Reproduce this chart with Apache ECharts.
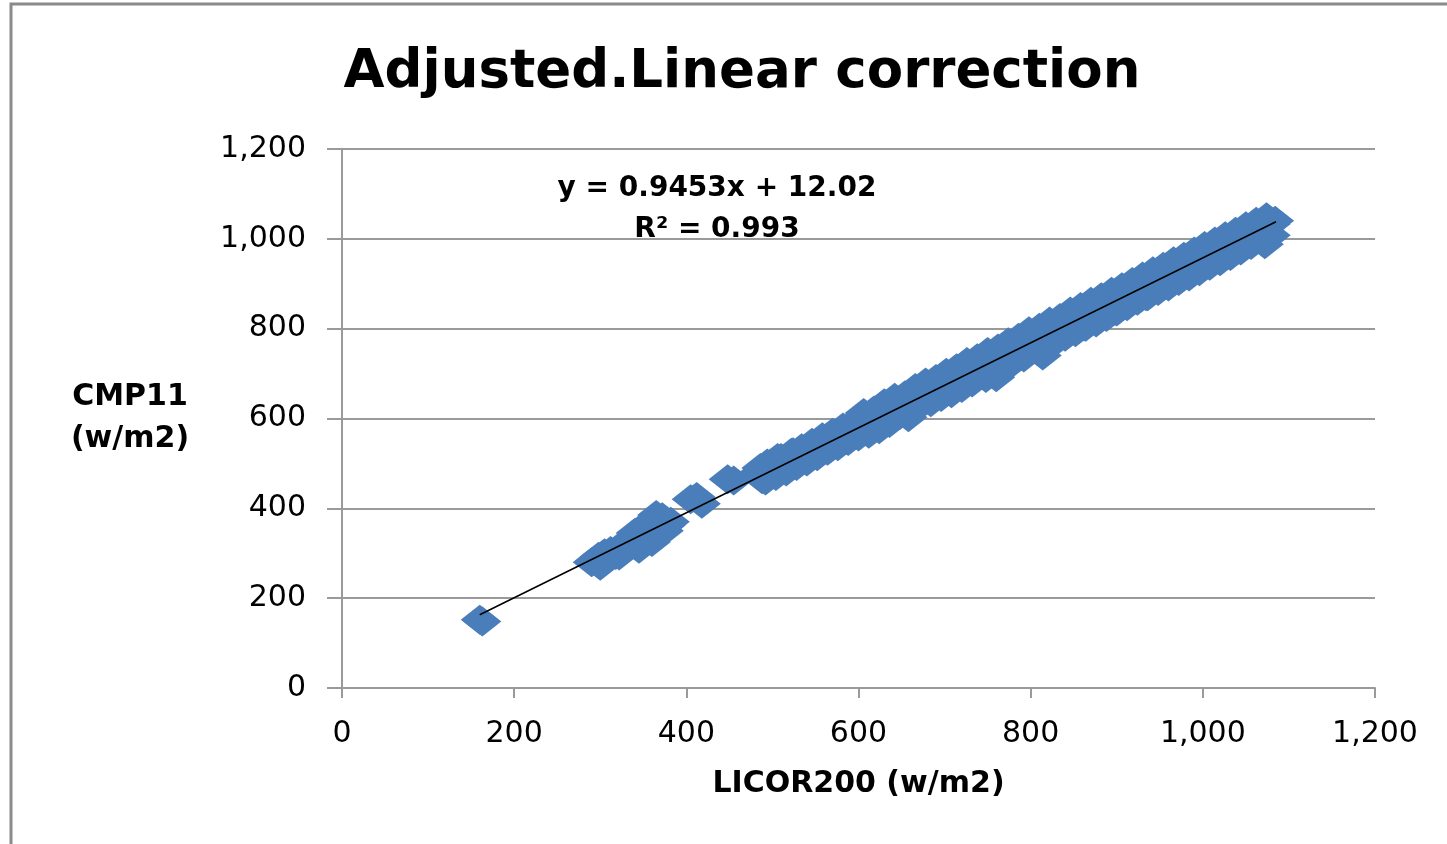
<!DOCTYPE html>
<html>
<head>
<meta charset="utf-8">
<script src="https://cdn.jsdelivr.net/npm/echarts@6/dist/echarts.min.js"></script>
<style>
  html, body { margin: 0; padding: 0; background: #fff; }
  #chart { width: 1447px; height: 844px; }
</style>
</head>
<body>
<div id="chart"></div>
<script>
// LICOR200 readings (x) and CMP11 readings (y)
const licor = [
  160, 163,
  290, 298, 305, 312, 318, 325, 330, 336, 342, 348, 352, 358, 363, 368, 372, 377, 382,
  300, 322, 345, 360, 375, 340, 356, 365,
  405, 412, 418,
  448, 455,
  482, 488, 494, 500, 506, 512, 518, 524, 530, 536, 542, 548, 552, 558, 564, 568, 574, 580,
  586, 592, 598, 604, 610, 616, 622, 628, 634, 640, 646, 652, 658, 664, 670, 676, 682, 688,
  694, 700, 706, 712, 718, 724, 730, 736, 742, 748, 754, 760, 766, 772, 778, 784, 790, 796,
  802, 808, 814, 820, 826, 832, 838, 844, 850, 856, 862, 868, 874, 880, 886, 892, 898, 904,
  910, 916, 922, 928, 934, 940, 946, 952, 958, 964, 970, 976, 982, 988, 994, 1000, 1006,
  1012, 1018, 1024, 1030, 1036, 1042, 1048, 1054, 1060, 1066, 1072, 1078, 1084, 1080
];
const cmp11 = [
  152, 148,
  280, 292, 300, 305, 296, 318, 312, 325, 330, 318, 342, 350, 340, 372, 380, 362, 370,
  272, 295, 310, 325, 350, 345, 368, 385,
  420, 425, 410,
  465, 462,
  478, 465, 500, 490, 512, 498, 505, 525, 518, 530, 512, 540, 525, 548, 558, 535, 560, 570,
  552, 578, 590, 575, 585, 600, 592, 612, 605, 620, 628, 640, 603, 648, 660, 655, 668, 650,
  662, 680, 672, 690, 700, 688, 712, 720, 705, 690, 725, 692, 738, 732, 745, 752, 760, 750,
  770, 762, 740, 780, 785, 795, 800, 790, 812, 818, 805, 830, 838, 825, 848, 855, 840, 862,
  870, 858, 878, 885, 872, 895, 900, 910, 912, 920, 928, 940, 945, 935, 955, 962, 958,
  970, 978, 985, 975, 995, 1000, 1008, 1015, 1022, 1030, 988, 1032, 1040, 1033
];

// readings along the upper edge of the cloud
const upperLicor = [
  486, 498, 510, 522, 534, 546, 558, 570, 582, 594, 606, 618, 630, 642, 654, 666, 678, 690,
  702, 714, 726, 738, 750, 762, 774, 786, 798, 810, 822, 834, 846, 858, 870, 882, 894, 906,
  918, 930, 942, 954, 966, 978, 990, 1002, 1014, 1026, 1038, 1050, 1062, 1074
];
const upperCmp11 = [
  490, 500, 512, 524, 534, 546, 558, 568, 580, 590, 612, 618, 634, 646, 652, 668, 680, 688,
  702, 712, 726, 734, 748, 756, 770, 780, 794, 802, 816, 824, 838, 848, 860, 870, 882, 892,
  904, 916, 928, 938, 950, 960, 972, 984, 994, 1006, 1016, 1028, 1038, 1048
];

// readings along the lower edge of the cloud
const lowerLicor = [
  492, 504, 516, 528, 540, 552, 564, 576, 588, 600, 612, 624, 636, 648, 660, 672, 684, 696,
  708, 720, 732, 744, 756, 768, 780, 792, 804, 816, 828, 840, 852, 864, 876, 888, 900, 912,
  924, 936, 948, 960, 972, 984, 996, 1008, 1020, 1032, 1044, 1056, 1068, 1080
];
const lowerCmp11 = [
  462, 472, 482, 494, 504, 516, 528, 538, 550, 560, 566, 576, 590, 608, 618, 630, 636, 648,
  656, 668, 680, 698, 704, 716, 726, 736, 754, 752, 772, 782, 792, 804, 814, 826, 838, 850,
  862, 872, 884, 894, 906, 916, 928, 940, 950, 962, 974, 986, 998, 1008
];

// linear trendline end points (y = 0.9453x + 12.02)
const trendX = [160, 1085];
const trendY = [163, 1038];

const xTicks = { min: 0, max: 1200, interval: 200 };
const yTicks = { min: 0, max: 1200, interval: 200 };

const toPairs = (xs, ys) => xs.map((x, i) => [x, ys[i]]);

const chart = echarts.init(document.getElementById('chart'));

const fmt = v => v.toLocaleString('en-US');

chart.setOption({
  animation: false,
  title: {
    text: 'Adjusted.Linear correction',
    left: 737,
    top: 42,
    textAlign: 'center',
    textStyle: {
      fontFamily: 'DejaVu Sans',
      fontWeight: 'bold',
      fontSize: 53,
      color: '#000'
    }
  },
  grid: { left: 342, right: 72, top: 149, bottom: 156 },
  xAxis: {
    type: 'value',
    min: xTicks.min,
    max: xTicks.max,
    interval: xTicks.interval,
    name: 'LICOR200 (w/m2)',
    nameLocation: 'middle',
    nameGap: 81,
    nameTextStyle: {
      fontFamily: 'DejaVu Sans',
      fontWeight: 'bold',
      fontSize: 30,
      color: '#000'
    },
    axisLine: { onZero: false, lineStyle: { color: '#9a9a9a', width: 2 } },
    axisTick: { show: true, length: 10, lineStyle: { color: '#9a9a9a', width: 2 } },
    axisLabel: {
      margin: 31,
      formatter: fmt,
      fontFamily: 'DejaVu Sans',
      fontSize: 30,
      color: '#000'
    },
    splitLine: { show: false }
  },
  yAxis: {
    type: 'value',
    min: yTicks.min,
    max: yTicks.max,
    interval: yTicks.interval,
    name: 'CMP11\n(w/m2)',
    nameLocation: 'middle',
    nameRotate: 0,
    nameGap: 212,
    nameTextStyle: {
      fontFamily: 'DejaVu Sans',
      fontWeight: 'bold',
      fontSize: 30,
      lineHeight: 42,
      align: 'center',
      color: '#000'
    },
    axisLine: { show: true, lineStyle: { color: '#9a9a9a', width: 2 } },
    axisTick: { show: true, length: 15, lineStyle: { color: '#9a9a9a', width: 2 } },
    axisLabel: {
      margin: 36,
      formatter: fmt,
      fontFamily: 'DejaVu Sans',
      fontSize: 30,
      color: '#000'
    },
    splitLine: { show: true, lineStyle: { color: '#9a9a9a', width: 2 } }
  },
  graphic: [
    {
      type: 'rect',
      silent: true,
      shape: { x: 11, y: 4, width: 2000, height: 2000 },
      style: { fill: 'none', stroke: '#8a8a8a', lineWidth: 3 }
    },
    {
      type: 'text',
      x: 717,
      y: 189,
      style: {
        text: 'y = 0.9453x + 12.02',
        fontFamily: 'DejaVu Sans',
        fontWeight: 'bold',
        fontSize: 28,
        fill: '#000',
        textAlign: 'center',
        textVerticalAlign: 'middle'
      }
    },
    {
      type: 'text',
      x: 717,
      y: 230,
      style: {
        text: 'R² = 0.993',
        fontFamily: 'DejaVu Sans',
        fontWeight: 'bold',
        fontSize: 28,
        fill: '#000',
        textAlign: 'center',
        textVerticalAlign: 'middle'
      }
    }
  ],
  series: [
    {
      type: 'scatter',
      symbol: 'diamond',
      symbolSize: [38, 30],
      itemStyle: { color: '#4A7EBB', opacity: 1 },
      data: toPairs(licor, cmp11)
        .concat(toPairs(upperLicor, upperCmp11))
        .concat(toPairs(lowerLicor, lowerCmp11))
    },
    {
      type: 'line',
      symbol: 'none',
      lineStyle: { color: '#000', width: 1.5 },
      data: toPairs(trendX, trendY)
    }
  ]
});
</script>
</body>
</html>
